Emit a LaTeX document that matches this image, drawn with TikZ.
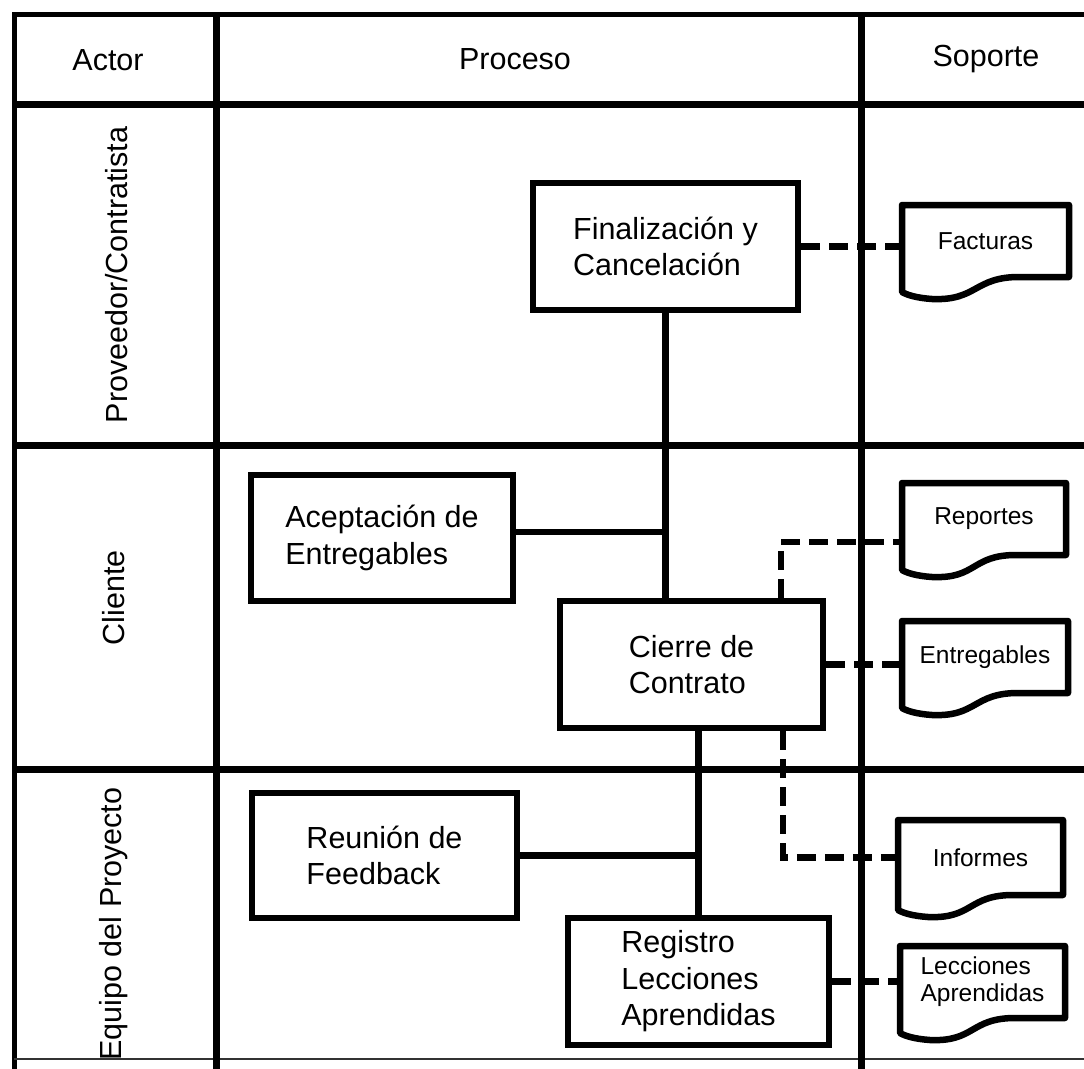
\documentclass[tikz,border=0pt]{standalone}
\usepackage{fontspec}
\setmainfont{Liberation Sans}
\usetikzlibrary{calc}

\tikzset{
  frame/.style={line width=5pt},
  lane/.style={line width=7pt},
  procbox/.style={draw, line width=6.5pt, align=left, inner sep=0pt,
    font=\fontsize{30.5}{36.5}\selectfont},
  docnode/.style={inner sep=0pt, outer sep=0pt, align=center,
    font=\fontsize{24.5}{27}\selectfont},
  docline/.style={line width=6.5pt, line join=round},
  flow/.style={line width=6.5pt},
  dataflow/.style={line width=6.5pt, dash pattern=on 19pt off 9pt},
  head/.style={font=\fontsize{30.5}{34}\selectfont, anchor=base, inner sep=0pt},
  role/.style={font=\fontsize{30.5}{34}\selectfont, rotate=90, inner sep=0pt},
}

% document symbol: straight top and sides, wavy bottom edge
\newcommand\docoutline[1]{%
  \draw[docline] (#1.south west) -- (#1.north west) -- (#1.north east) -- (#1.south east)
    -- ($(#1.south east)+(-50,0)$)
    .. controls ($(#1.south east)+(-95,0)$) and ($(#1.south west)+(75,24)$) ..
    ($(#1.south west)+(30,22)$)
    .. controls ($(#1.south west)+(15,21)$) and ($(#1.south west)+(5,18)$) ..
    ($(#1.south west)+(0,15)$) -- cycle;}

\begin{document}
\begin{tikzpicture}[x=1pt,y=-1pt]
\useasboundingbox (0,0) rectangle (1084,1068);
\clip (0,0) rectangle (1084,1068);
\fill[white] (0,0) rectangle (1084,1068);

% swimlane grid
\draw[frame] (14,1070) -- (14,14) -- (1100,14);
\draw[line width=2.5pt, black!80] (14,1059) -- (1100,1059);
\draw[lane] (14,104) -- (1100,104);
\draw[lane] (14,445) -- (1100,445);
\draw[lane] (14,769) -- (1100,769);
\draw[lane] (216,14) -- (216,1070);
\draw[lane] (861,14) -- (861,1070);

% column headers
\node[head] (hactor) at (108,70) {Actor};
\node[head] (hproc) at (515,69) {Proceso};
\node[head] (hsop) at (986,66) {Soporte};

% lane names
\node[role] (rprov) at (117,275) {Proveedor/Contratista};
\node[role] (rcli) at (114,598) {Cliente};
\node[role] (requipo) at (114,924) {Equipo del Proyecto};

% process steps
\node[procbox, minimum width=265pt, minimum height=127pt] (fin) at (665.5,246.5)
  {Finalización y\\Cancelación};
\node[procbox, minimum width=262pt, minimum height=126pt] (acep) at (382,538)
  {Aceptación de\\Entregables};
\node[procbox, minimum width=263pt, minimum height=127pt] (cierre) at (691.5,664.5)
  {Cierre de\\Contrato};
\node[procbox, minimum width=265pt, minimum height=125pt] (reun) at (384.5,855.5)
  {Reunión de\\Feedback};
\node[procbox, minimum width=261pt, minimum height=127pt] (reg) at (698.5,981.5)
  {Registro\\Lecciones\\Aprendidas};

% supporting documents
\node[docnode, minimum width=167pt, minimum height=72pt] (fact) at (985.5,241) {Facturas};
\node[docnode, minimum width=164pt, minimum height=72pt] (rep) at (984,519) {Reportes};
\node[docnode, minimum width=166pt, minimum height=72pt] (entr) at (985,657) {Entregables};
\node[docnode, minimum width=165pt, minimum height=75pt] (inf) at (980.5,857.5) {Informes};
\node[docnode, align=left, minimum width=165pt, minimum height=72pt] (lec) at (982.5,982)
  {Lecciones\\Aprendidas};
\docoutline{fact}
\docoutline{rep}
\docoutline{entr}
\docoutline{inf}
\docoutline{lec}

% process flow
\draw[flow] (fin.south) -- (fin.south |- cierre.north);
\coordinate (acepout) at ($(acep.east)+(0,-6)$);
\draw[flow] (acepout) -- (acepout -| fin.south);
\draw[flow] (reg.north) -- (reg.north |- cierre.south);
\draw[flow] (reun.east) -- (reun.east -| reg.north);

% links to supporting documents
\draw[dataflow] (fin.east) -- (fin.east -| fact.west);
\coordinate (repin) at ($(rep.west)+(0,23)$);
\draw[dataflow] ($(cierre.north)+(89.5,0)$) |- (repin);
\draw[dataflow] (cierre.east) -- (cierre.east -| entr.west);
\draw[dataflow] ($(cierre.south)+(91.5,0)$) |- (inf.west);
\draw[dataflow] (reg.east) -- (reg.east -| lec.west);
\end{tikzpicture}
\end{document}
